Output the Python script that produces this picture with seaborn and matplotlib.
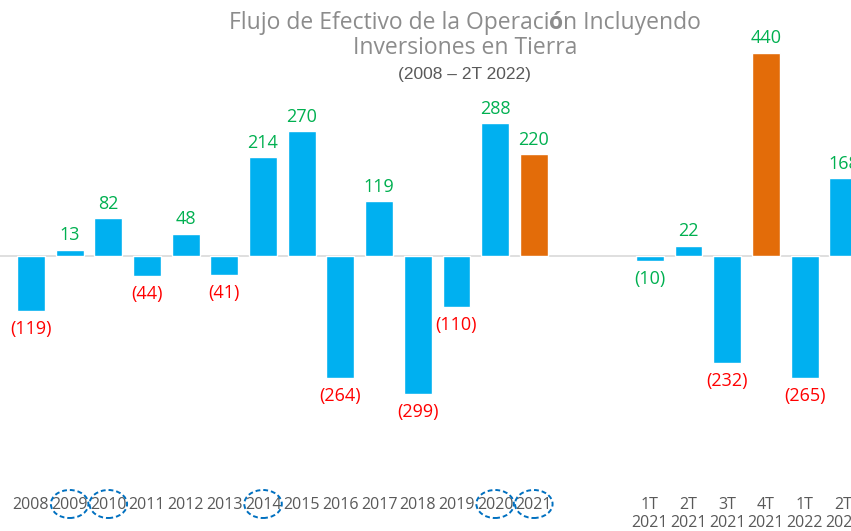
import pandas as pd
import matplotlib.pyplot as plt
from matplotlib.patches import Ellipse
import matplotlib.transforms as mtransforms
import seaborn as sns

sns.set_style('white')
plt.rcParams['font.family'] = ['Open Sans', 'DejaVu Sans']

periodos = ['2008', '2009', '2010', '2011', '2012', '2013', '2014', '2015', '2016',
            '2017', '2018', '2019', '2020', '2021', ' ', '  ',
            '1T\n2021', '2T\n2021', '3T\n2021', '4T\n2021', '1T\n2022', '2T\n2022']
valores = [-119, 13, 82, -44, 48, -41, 214, 270, -264, 119, -299, -110, 288, 220,
           None, None, -10, 22, -232, 440, -265, 168]
destacados = ['2021', '4T\n2021']
circulados = ['2009', '2010', '2014', '2020', '2021']

AZUL = '#00B0F0'
NARANJA = '#E36C09'
VERDE = '#00B050'
ROJO = '#FF0000'
GRIS_TITULO = '#8C8C8C'

df = pd.DataFrame({'periodo': periodos, 'valor': valores})
df['tipo'] = ['destacado' if p in destacados else 'normal' for p in periodos]

fig = plt.figure(figsize=(8.51, 5.31), dpi=100)
ax = fig.add_axes([0, 51 / 531, 1, 480 / 531])

sns.barplot(data=df, x='periodo', y='valor', hue='tipo', order=periodos,
            palette={'normal': AZUL, 'destacado': NARANJA}, dodge=False,
            legend=False, width=0.72, saturation=1, ax=ax)

ax.set_xlim(-0.8, 21.2)
ax.set_ylim(-486, 555)
ax.axhline(0, color='#D9D9D9', lw=1.2, zorder=0)

for i, v in enumerate(valores):
    if v is None:
        continue
    if v >= 0:
        ax.text(i, v + 12, f'{v}', ha='center', va='bottom', color=VERDE, fontsize=13)
    else:
        color = VERDE if v == -10 else ROJO
        ax.text(i, v - 20, f'({-v})', ha='center', va='top', color=color, fontsize=13)

ax.set_xticks(range(len(periodos)))
ax.set_xticklabels(periodos, fontsize=11.5, color='#595959', linespacing=1.2)
ax.tick_params(axis='x', length=0, pad=12)
ax.set_yticks([])
ax.set_xlabel('')
ax.set_ylabel('')
sns.despine(ax=ax, left=True, bottom=True)

trans = mtransforms.blended_transform_factory(ax.transData, fig.transFigure)
for p in circulados:
    i = periodos.index(p)
    e = Ellipse((i, 1 - 504 / 531), 0.97, 28 / 531, transform=trans, fill=False,
                edgecolor='#0070C0', lw=1.4, ls=(0, (2.5, 1.5)), clip_on=False)
    fig.add_artist(e)

# titulo: la "ó" va en negrita
partes = [('Flujo de Efectivo de la Operaci', 'normal'), ('ó', 'bold'),
          ('n Incluyendo', 'normal')]
y1 = 1 - 29 / 531
textos = [fig.text(0, y1, s, ha='left', va='baseline', fontsize=16.5, color=GRIS_TITULO,
                   weight=w) for s, w in partes]
fig.canvas.draw()
r = fig.canvas.get_renderer()
anchos = [t.get_window_extent(r).width for t in textos]
xcur = 465 - sum(anchos) / 2
for t, w in zip(textos, anchos):
    t.set_x(xcur / 851)
    xcur += w

fig.text(465 / 851, 1 - 54 / 531, 'Inversiones en Tierra', ha='center', va='baseline',
         fontsize=16.5, color=GRIS_TITULO)
fig.text(464 / 851, 1 - 75 / 531, '(2008 – 2T 2022)', ha='center', va='center',
         fontsize=12.5, color='#595959', family='Liberation Sans')

fig.savefig('out.png', dpi=100)
